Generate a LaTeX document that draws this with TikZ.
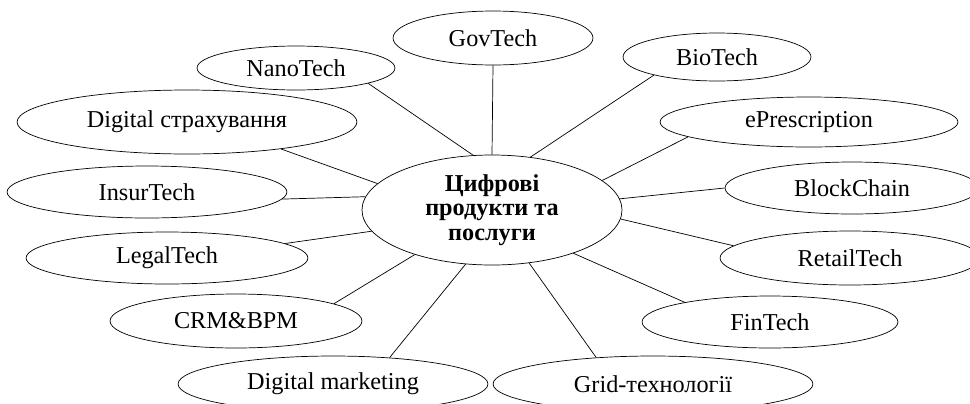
\documentclass[tikz,border=0pt]{standalone}
\usepackage{fontspec}
\setmainfont{Liberation Serif}
\usetikzlibrary{shapes.geometric}

\begin{document}
\begin{tikzpicture}[x=0.02cm,y=-0.02cm,
	oval/.style 2 args={draw,ellipse,inner sep=0pt,
		minimum width=#1*0.04cm,minimum height=#2*0.04cm,
		font=\fontsize{13.8}{16}\selectfont},
	hubnode/.style={draw,ellipse,inner sep=0pt,align=center,
		minimum width=260*0.02cm,minimum height=110*0.02cm,
		font=\fontsize{13.8}{13.8}\selectfont\bfseries}]

% frame %{{{2

	\useasboundingbox (0,0) rectangle (970,403);

% centre %{{{2

	\node[hubnode] (hub) at (492,210) {Цифрові\\продукти та\\послуги};

% topics %{{{2

	\node[oval={100}{27}] (gov)    at (493,38)  {GovTech};
	\node[oval={99}{22}]  (nano)   at (296,68)  {NanoTech};
	\node[oval={94}{24}]  (bio)    at (717,57)  {BioTech};
	\node[oval={170}{32}] (dstr)   at (187,122) {Digital страхування};
	\node[oval={149}{25}] (epre)   at (809,122) {ePrescription};
	\node[oval={140}{26}] (insur)  at (147,192) {InsurTech};
	\node[oval={127}{26}] (block)  at (852,188) {BlockChain};
	\node[oval={141}{26}] (legal)  at (167,258) {LegalTech};
	\node[oval={130}{27}] (retail) at (850,258) {RetailTech};
	\node[oval={126}{27}] (crm)    at (236,321) {CRM\&BPM};
	\node[oval={128}{26}] (fin)    at (770,322) {FinTech};
	\node[oval={155}{28}] (dm)     at (333,384) {Digital marketing};
	\node[oval={160}{28}] (grid)   at (653,384) {Grid-технології};

% connectors %{{{2

	\foreach \name/\a/\b in {nano/109/348, gov/90/270, bio/54/196,
		epre/15.5/187, block/5.7/180, retail/356/174, fin/332/167.5,
		grid/305/155, dm/244.7/25, crm/210.3/10, legal/190/7,
		insur/174.7/357.5, dstr/167.6/344} {
		\draw (hub.\a) -- (\name.\b);
	}

\end{tikzpicture}
\end{document}
